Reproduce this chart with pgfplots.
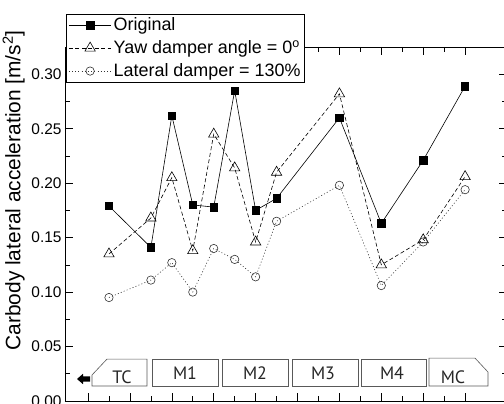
\documentclass[border=0pt]{standalone}
\usepackage{fontspec}
\setmainfont{Liberation Sans}
\newfontfamily\boxfont{PT Sans}
\usepackage{pgfplots}
\pgfplotsset{compat=1.18}
\begin{document}
\begin{tikzpicture}
\begin{axis}[
  scale only axis,
  width=442bp, height=354bp,
  xmin=0.45, xmax=11, ymin=0, ymax=0.325,
  xtick={1,...,10}, xticklabels={},
  minor x tick num=1,
  ytick={0,0.05,...,0.30},
  minor y tick num=1,
  tick align=inside,
  major tick length=8bp, minor tick length=5bp,
  tick style={black, line width=0.6pt},
  axis line style={black, line width=0.8pt},
  yticklabel style={/pgf/number format/fixed,/pgf/number format/fixed zerofill,/pgf/number format/precision=2,/pgf/number format/assume math mode=true, font=\fontsize{15.5}{18}\selectfont},
  ylabel={Carbody lateral acceleration [m/s\textsuperscript{2}]},
  ylabel style={font=\fontsize{21}{24}\selectfont, at={(axis description cs:-0.116,0.595)}, anchor=center},
  legend style={at={(0.003,0.901)}, anchor=south west, draw=black, line width=0.5pt, fill=white,
    font=\fontsize{18}{21}\selectfont, inner xsep=2pt, inner ysep=1.5pt, row sep=4.5pt, cells={anchor=west}},
  legend image code/.code={\draw[mark repeat=2,mark phase=2,#1] plot coordinates {(0cm,0cm) (0.75cm,0cm) (1.5cm,0cm)};},
  clip=false,
]
\addplot[black, line width=0.6pt, mark=square*, mark size=3.7pt, mark options={solid, fill=black}] coordinates {
 (1.5,0.179) (2.5,0.141) (3,0.262) (3.5,0.180) (4,0.178) (4.5,0.285) (5,0.175) (5.5,0.186) (7,0.260) (8,0.163) (9,0.221) (10,0.289)};
\addlegendentry{Original}
\addplot[black, line width=0.6pt, dash pattern=on 4pt off 2.5pt, mark=triangle, mark size=6pt, mark options={solid, fill=white}] coordinates {
 (1.5,0.135) (2.5,0.168) (3,0.205) (3.5,0.138) (4,0.245) (4.5,0.214) (5,0.146) (5.5,0.210) (7,0.282) (8,0.125) (9,0.148) (10,0.206)};
\addlegendentry{Yaw damper angle = 0\textsuperscript{o}}
\addplot[black!80, line width=0.6pt, dash pattern=on 1pt off 2.2pt, mark=o, mark size=4.2pt, mark options={solid, fill=white, black!80}] coordinates {
 (1.5,0.095) (2.5,0.111) (3,0.127) (3.5,0.100) (4,0.140) (4.5,0.130) (5,0.114) (5.5,0.165) (7,0.198) (8,0.106) (9,0.146) (10,0.194)};
\addlegendentry{Lateral damper = 130\%}
% train diagram
\begin{scope}[draw=black!65, line width=0.6pt]
\draw (axis cs:1.095,0.0138) -- (axis cs:1.095,0.0239) -- (axis cs:1.453,0.0385) -- (axis cs:2.408,0.0385) -- (axis cs:2.408,0.0138) -- cycle;
\draw (axis cs:2.527,0.0138) rectangle (axis cs:4.103,0.0385);
\draw (axis cs:4.198,0.0138) rectangle (axis cs:5.773,0.0385);
\draw (axis cs:5.869,0.0138) rectangle (axis cs:7.444,0.0385);
\draw (axis cs:7.516,0.0138) rectangle (axis cs:9.067,0.0385);
\draw (axis cs:9.138,0.0138) -- (axis cs:9.138,0.0394) -- (axis cs:10.236,0.0394) -- (axis cs:10.546,0.0266) -- (axis cs:10.546,0.0138) -- cycle;
\end{scope}
\fill[black] (axis cs:0.737,0.0202) -- (axis cs:0.88,0.0250) -- (axis cs:0.88,0.0225) -- (axis cs:1.048,0.0225) -- (axis cs:1.048,0.0179) -- (axis cs:0.88,0.0179) -- (axis cs:0.88,0.0154) -- cycle;
\begin{scope}[font=\boxfont\fontsize{18}{21}\selectfont, text=black!85]
\node at (axis cs:1.811,0.0215) {TC};
\node at (axis cs:3.315,0.0255) {M1};
\node at (axis cs:4.986,0.0255) {M2};
\node at (axis cs:6.609,0.0255) {M3};
\node at (axis cs:8.255,0.0255) {M4};
\node at (axis cs:9.711,0.0215) {MC};
\end{scope}
\coordinate (ll) at (rel axis cs:0,0);
\coordinate (ur) at (rel axis cs:1,1);
\end{axis}
\pgfresetboundingbox
\path[use as bounding box] ([xshift=-65bp,yshift=-3bp]ll) rectangle ([xshift=-3bp,yshift=47bp]ur);
\end{tikzpicture}
\end{document}
